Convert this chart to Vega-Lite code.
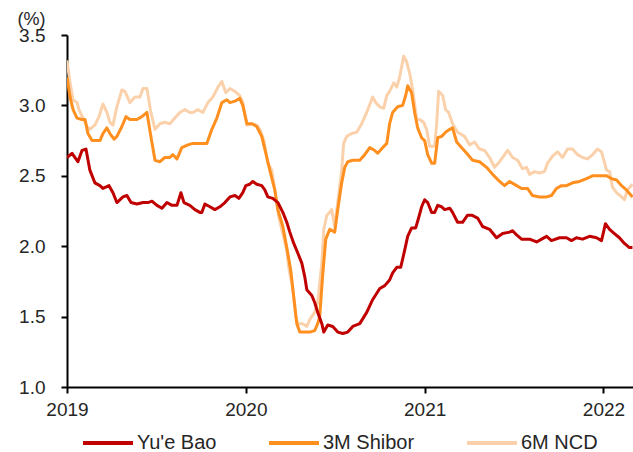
{
  "$schema": "https://vega.github.io/schema/vega-lite/v6.json",
  "width": 566,
  "height": 352,
  "autosize": {"type": "none"},
  "padding": {"left": 67, "top": 35, "right": 0, "bottom": 65},
  "background": "white",
  "config": {"view": {"stroke": null}, "font": "Liberation Sans"},
  "data": {"values": [
{"s":"6M NCD","t":2019.000,"v":3.32},{"s":"6M NCD","t":2019.017,"v":3.16},{"s":"6M NCD","t":2019.034,"v":3.04},{"s":"6M NCD","t":2019.056,"v":3.02},{"s":"6M NCD","t":2019.067,"v":2.97},{"s":"6M NCD","t":2019.089,"v":2.91},{"s":"6M NCD","t":2019.112,"v":2.85},{"s":"6M NCD","t":2019.128,"v":2.83},{"s":"6M NCD","t":2019.156,"v":2.86},{"s":"6M NCD","t":2019.179,"v":2.92},{"s":"6M NCD","t":2019.201,"v":3.01},{"s":"6M NCD","t":2019.223,"v":2.95},{"s":"6M NCD","t":2019.240,"v":2.88},{"s":"6M NCD","t":2019.257,"v":2.86},{"s":"6M NCD","t":2019.279,"v":2.99},{"s":"6M NCD","t":2019.307,"v":3.11},{"s":"6M NCD","t":2019.324,"v":3.10},{"s":"6M NCD","t":2019.352,"v":3.02},{"s":"6M NCD","t":2019.380,"v":3.06},{"s":"6M NCD","t":2019.408,"v":3.06},{"s":"6M NCD","t":2019.425,"v":3.12},{"s":"6M NCD","t":2019.447,"v":3.12},{"s":"6M NCD","t":2019.469,"v":2.95},{"s":"6M NCD","t":2019.492,"v":2.83},{"s":"6M NCD","t":2019.520,"v":2.87},{"s":"6M NCD","t":2019.547,"v":2.88},{"s":"6M NCD","t":2019.575,"v":2.87},{"s":"6M NCD","t":2019.603,"v":2.91},{"s":"6M NCD","t":2019.631,"v":2.95},{"s":"6M NCD","t":2019.659,"v":2.97},{"s":"6M NCD","t":2019.687,"v":2.95},{"s":"6M NCD","t":2019.704,"v":2.95},{"s":"6M NCD","t":2019.732,"v":2.97},{"s":"6M NCD","t":2019.760,"v":2.95},{"s":"6M NCD","t":2019.788,"v":3.02},{"s":"6M NCD","t":2019.816,"v":3.06},{"s":"6M NCD","t":2019.844,"v":3.13},{"s":"6M NCD","t":2019.866,"v":3.17},{"s":"6M NCD","t":2019.888,"v":3.09},{"s":"6M NCD","t":2019.911,"v":3.12},{"s":"6M NCD","t":2019.939,"v":3.10},{"s":"6M NCD","t":2019.966,"v":3.07},{"s":"6M NCD","t":2019.983,"v":3.02},{"s":"6M NCD","t":2020.006,"v":2.86},{"s":"6M NCD","t":2020.034,"v":2.87},{"s":"6M NCD","t":2020.061,"v":2.86},{"s":"6M NCD","t":2020.078,"v":2.83},{"s":"6M NCD","t":2020.101,"v":2.75},{"s":"6M NCD","t":2020.123,"v":2.59},{"s":"6M NCD","t":2020.145,"v":2.54},{"s":"6M NCD","t":2020.162,"v":2.40},{"s":"6M NCD","t":2020.184,"v":2.21},{"s":"6M NCD","t":2020.207,"v":2.09},{"s":"6M NCD","t":2020.229,"v":1.97},{"s":"6M NCD","t":2020.240,"v":1.85},{"s":"6M NCD","t":2020.263,"v":1.69},{"s":"6M NCD","t":2020.279,"v":1.50},{"s":"6M NCD","t":2020.291,"v":1.45},{"s":"6M NCD","t":2020.318,"v":1.45},{"s":"6M NCD","t":2020.341,"v":1.43},{"s":"6M NCD","t":2020.358,"v":1.48},{"s":"6M NCD","t":2020.385,"v":1.53},{"s":"6M NCD","t":2020.402,"v":1.60},{"s":"6M NCD","t":2020.425,"v":1.88},{"s":"6M NCD","t":2020.436,"v":2.12},{"s":"6M NCD","t":2020.453,"v":2.22},{"s":"6M NCD","t":2020.469,"v":2.24},{"s":"6M NCD","t":2020.480,"v":2.26},{"s":"6M NCD","t":2020.497,"v":2.14},{"s":"6M NCD","t":2020.514,"v":2.31},{"s":"6M NCD","t":2020.536,"v":2.54},{"s":"6M NCD","t":2020.547,"v":2.73},{"s":"6M NCD","t":2020.564,"v":2.78},{"s":"6M NCD","t":2020.592,"v":2.80},{"s":"6M NCD","t":2020.620,"v":2.81},{"s":"6M NCD","t":2020.648,"v":2.87},{"s":"6M NCD","t":2020.676,"v":2.95},{"s":"6M NCD","t":2020.709,"v":3.06},{"s":"6M NCD","t":2020.726,"v":3.02},{"s":"6M NCD","t":2020.749,"v":2.99},{"s":"6M NCD","t":2020.771,"v":2.98},{"s":"6M NCD","t":2020.788,"v":3.07},{"s":"6M NCD","t":2020.804,"v":3.10},{"s":"6M NCD","t":2020.827,"v":3.16},{"s":"6M NCD","t":2020.844,"v":3.13},{"s":"6M NCD","t":2020.860,"v":3.20},{"s":"6M NCD","t":2020.883,"v":3.35},{"s":"6M NCD","t":2020.899,"v":3.31},{"s":"6M NCD","t":2020.916,"v":3.23},{"s":"6M NCD","t":2020.933,"v":3.11},{"s":"6M NCD","t":2020.955,"v":2.90},{"s":"6M NCD","t":2020.972,"v":2.90},{"s":"6M NCD","t":2020.994,"v":2.88},{"s":"6M NCD","t":2021.011,"v":2.83},{"s":"6M NCD","t":2021.028,"v":2.71},{"s":"6M NCD","t":2021.056,"v":2.71},{"s":"6M NCD","t":2021.067,"v":2.87},{"s":"6M NCD","t":2021.078,"v":3.10},{"s":"6M NCD","t":2021.101,"v":3.07},{"s":"6M NCD","t":2021.117,"v":2.97},{"s":"6M NCD","t":2021.134,"v":2.95},{"s":"6M NCD","t":2021.156,"v":2.87},{"s":"6M NCD","t":2021.184,"v":2.81},{"s":"6M NCD","t":2021.196,"v":2.80},{"s":"6M NCD","t":2021.223,"v":2.78},{"s":"6M NCD","t":2021.251,"v":2.72},{"s":"6M NCD","t":2021.279,"v":2.74},{"s":"6M NCD","t":2021.307,"v":2.69},{"s":"6M NCD","t":2021.335,"v":2.68},{"s":"6M NCD","t":2021.363,"v":2.63},{"s":"6M NCD","t":2021.391,"v":2.56},{"s":"6M NCD","t":2021.419,"v":2.60},{"s":"6M NCD","t":2021.447,"v":2.65},{"s":"6M NCD","t":2021.464,"v":2.68},{"s":"6M NCD","t":2021.492,"v":2.63},{"s":"6M NCD","t":2021.520,"v":2.61},{"s":"6M NCD","t":2021.547,"v":2.55},{"s":"6M NCD","t":2021.570,"v":2.56},{"s":"6M NCD","t":2021.587,"v":2.51},{"s":"6M NCD","t":2021.615,"v":2.53},{"s":"6M NCD","t":2021.642,"v":2.52},{"s":"6M NCD","t":2021.670,"v":2.53},{"s":"6M NCD","t":2021.687,"v":2.59},{"s":"6M NCD","t":2021.715,"v":2.64},{"s":"6M NCD","t":2021.743,"v":2.67},{"s":"6M NCD","t":2021.771,"v":2.63},{"s":"6M NCD","t":2021.799,"v":2.69},{"s":"6M NCD","t":2021.827,"v":2.69},{"s":"6M NCD","t":2021.855,"v":2.65},{"s":"6M NCD","t":2021.883,"v":2.63},{"s":"6M NCD","t":2021.911,"v":2.62},{"s":"6M NCD","t":2021.939,"v":2.65},{"s":"6M NCD","t":2021.966,"v":2.69},{"s":"6M NCD","t":2021.989,"v":2.67},{"s":"6M NCD","t":2022.017,"v":2.54},{"s":"6M NCD","t":2022.034,"v":2.53},{"s":"6M NCD","t":2022.050,"v":2.42},{"s":"6M NCD","t":2022.073,"v":2.38},{"s":"6M NCD","t":2022.101,"v":2.35},{"s":"6M NCD","t":2022.117,"v":2.33},{"s":"6M NCD","t":2022.134,"v":2.40},{"s":"6M NCD","t":2022.162,"v":2.44},
{"s":"3M Shibor","t":2019.000,"v":3.20},{"s":"3M Shibor","t":2019.017,"v":3.06},{"s":"3M Shibor","t":2019.034,"v":2.97},{"s":"3M Shibor","t":2019.056,"v":2.91},{"s":"3M Shibor","t":2019.084,"v":2.90},{"s":"3M Shibor","t":2019.101,"v":2.90},{"s":"3M Shibor","t":2019.117,"v":2.80},{"s":"3M Shibor","t":2019.140,"v":2.75},{"s":"3M Shibor","t":2019.168,"v":2.75},{"s":"3M Shibor","t":2019.184,"v":2.75},{"s":"3M Shibor","t":2019.201,"v":2.80},{"s":"3M Shibor","t":2019.223,"v":2.84},{"s":"3M Shibor","t":2019.240,"v":2.80},{"s":"3M Shibor","t":2019.263,"v":2.76},{"s":"3M Shibor","t":2019.279,"v":2.78},{"s":"3M Shibor","t":2019.307,"v":2.85},{"s":"3M Shibor","t":2019.330,"v":2.92},{"s":"3M Shibor","t":2019.352,"v":2.90},{"s":"3M Shibor","t":2019.391,"v":2.90},{"s":"3M Shibor","t":2019.419,"v":2.92},{"s":"3M Shibor","t":2019.447,"v":2.95},{"s":"3M Shibor","t":2019.469,"v":2.78},{"s":"3M Shibor","t":2019.492,"v":2.61},{"s":"3M Shibor","t":2019.520,"v":2.60},{"s":"3M Shibor","t":2019.547,"v":2.63},{"s":"3M Shibor","t":2019.575,"v":2.63},{"s":"3M Shibor","t":2019.592,"v":2.65},{"s":"3M Shibor","t":2019.615,"v":2.62},{"s":"3M Shibor","t":2019.642,"v":2.70},{"s":"3M Shibor","t":2019.676,"v":2.72},{"s":"3M Shibor","t":2019.704,"v":2.73},{"s":"3M Shibor","t":2019.743,"v":2.73},{"s":"3M Shibor","t":2019.760,"v":2.73},{"s":"3M Shibor","t":2019.782,"v":2.73},{"s":"3M Shibor","t":2019.810,"v":2.83},{"s":"3M Shibor","t":2019.838,"v":2.91},{"s":"3M Shibor","t":2019.866,"v":3.02},{"s":"3M Shibor","t":2019.894,"v":3.04},{"s":"3M Shibor","t":2019.911,"v":3.02},{"s":"3M Shibor","t":2019.939,"v":3.03},{"s":"3M Shibor","t":2019.966,"v":3.05},{"s":"3M Shibor","t":2019.983,"v":3.00},{"s":"3M Shibor","t":2020.006,"v":2.87},{"s":"3M Shibor","t":2020.034,"v":2.87},{"s":"3M Shibor","t":2020.061,"v":2.85},{"s":"3M Shibor","t":2020.089,"v":2.78},{"s":"3M Shibor","t":2020.112,"v":2.66},{"s":"3M Shibor","t":2020.134,"v":2.54},{"s":"3M Shibor","t":2020.162,"v":2.40},{"s":"3M Shibor","t":2020.179,"v":2.26},{"s":"3M Shibor","t":2020.207,"v":2.14},{"s":"3M Shibor","t":2020.229,"v":1.99},{"s":"3M Shibor","t":2020.251,"v":1.83},{"s":"3M Shibor","t":2020.268,"v":1.64},{"s":"3M Shibor","t":2020.285,"v":1.45},{"s":"3M Shibor","t":2020.302,"v":1.39},{"s":"3M Shibor","t":2020.330,"v":1.39},{"s":"3M Shibor","t":2020.358,"v":1.39},{"s":"3M Shibor","t":2020.385,"v":1.40},{"s":"3M Shibor","t":2020.402,"v":1.45},{"s":"3M Shibor","t":2020.413,"v":1.50},{"s":"3M Shibor","t":2020.430,"v":1.80},{"s":"3M Shibor","t":2020.447,"v":2.05},{"s":"3M Shibor","t":2020.469,"v":2.12},{"s":"3M Shibor","t":2020.497,"v":2.10},{"s":"3M Shibor","t":2020.514,"v":2.26},{"s":"3M Shibor","t":2020.536,"v":2.45},{"s":"3M Shibor","t":2020.553,"v":2.56},{"s":"3M Shibor","t":2020.570,"v":2.60},{"s":"3M Shibor","t":2020.598,"v":2.61},{"s":"3M Shibor","t":2020.637,"v":2.61},{"s":"3M Shibor","t":2020.665,"v":2.65},{"s":"3M Shibor","t":2020.693,"v":2.70},{"s":"3M Shibor","t":2020.721,"v":2.68},{"s":"3M Shibor","t":2020.737,"v":2.66},{"s":"3M Shibor","t":2020.765,"v":2.70},{"s":"3M Shibor","t":2020.788,"v":2.73},{"s":"3M Shibor","t":2020.804,"v":2.87},{"s":"3M Shibor","t":2020.821,"v":2.95},{"s":"3M Shibor","t":2020.849,"v":2.99},{"s":"3M Shibor","t":2020.877,"v":3.00},{"s":"3M Shibor","t":2020.894,"v":3.07},{"s":"3M Shibor","t":2020.905,"v":3.14},{"s":"3M Shibor","t":2020.927,"v":3.09},{"s":"3M Shibor","t":2020.944,"v":2.95},{"s":"3M Shibor","t":2020.961,"v":2.84},{"s":"3M Shibor","t":2020.983,"v":2.77},{"s":"3M Shibor","t":2021.000,"v":2.75},{"s":"3M Shibor","t":2021.017,"v":2.65},{"s":"3M Shibor","t":2021.039,"v":2.59},{"s":"3M Shibor","t":2021.056,"v":2.59},{"s":"3M Shibor","t":2021.073,"v":2.77},{"s":"3M Shibor","t":2021.095,"v":2.78},{"s":"3M Shibor","t":2021.117,"v":2.81},{"s":"3M Shibor","t":2021.140,"v":2.83},{"s":"3M Shibor","t":2021.156,"v":2.84},{"s":"3M Shibor","t":2021.179,"v":2.74},{"s":"3M Shibor","t":2021.207,"v":2.70},{"s":"3M Shibor","t":2021.235,"v":2.66},{"s":"3M Shibor","t":2021.268,"v":2.61},{"s":"3M Shibor","t":2021.307,"v":2.60},{"s":"3M Shibor","t":2021.346,"v":2.56},{"s":"3M Shibor","t":2021.380,"v":2.51},{"s":"3M Shibor","t":2021.419,"v":2.46},{"s":"3M Shibor","t":2021.447,"v":2.43},{"s":"3M Shibor","t":2021.475,"v":2.46},{"s":"3M Shibor","t":2021.514,"v":2.43},{"s":"3M Shibor","t":2021.542,"v":2.41},{"s":"3M Shibor","t":2021.575,"v":2.41},{"s":"3M Shibor","t":2021.603,"v":2.36},{"s":"3M Shibor","t":2021.642,"v":2.35},{"s":"3M Shibor","t":2021.682,"v":2.35},{"s":"3M Shibor","t":2021.709,"v":2.36},{"s":"3M Shibor","t":2021.737,"v":2.41},{"s":"3M Shibor","t":2021.765,"v":2.43},{"s":"3M Shibor","t":2021.793,"v":2.43},{"s":"3M Shibor","t":2021.827,"v":2.45},{"s":"3M Shibor","t":2021.866,"v":2.46},{"s":"3M Shibor","t":2021.905,"v":2.48},{"s":"3M Shibor","t":2021.939,"v":2.50},{"s":"3M Shibor","t":2021.978,"v":2.50},{"s":"3M Shibor","t":2022.017,"v":2.50},{"s":"3M Shibor","t":2022.045,"v":2.48},{"s":"3M Shibor","t":2022.073,"v":2.47},{"s":"3M Shibor","t":2022.101,"v":2.43},{"s":"3M Shibor","t":2022.128,"v":2.40},{"s":"3M Shibor","t":2022.162,"v":2.35},
{"s":"Yu'e Bao","t":2019.000,"v":2.63},{"s":"Yu'e Bao","t":2019.028,"v":2.66},{"s":"Yu'e Bao","t":2019.061,"v":2.60},{"s":"Yu'e Bao","t":2019.084,"v":2.68},{"s":"Yu'e Bao","t":2019.106,"v":2.69},{"s":"Yu'e Bao","t":2019.128,"v":2.54},{"s":"Yu'e Bao","t":2019.156,"v":2.45},{"s":"Yu'e Bao","t":2019.184,"v":2.43},{"s":"Yu'e Bao","t":2019.201,"v":2.41},{"s":"Yu'e Bao","t":2019.235,"v":2.43},{"s":"Yu'e Bao","t":2019.257,"v":2.38},{"s":"Yu'e Bao","t":2019.279,"v":2.31},{"s":"Yu'e Bao","t":2019.313,"v":2.35},{"s":"Yu'e Bao","t":2019.335,"v":2.36},{"s":"Yu'e Bao","t":2019.358,"v":2.31},{"s":"Yu'e Bao","t":2019.391,"v":2.30},{"s":"Yu'e Bao","t":2019.425,"v":2.31},{"s":"Yu'e Bao","t":2019.453,"v":2.31},{"s":"Yu'e Bao","t":2019.475,"v":2.32},{"s":"Yu'e Bao","t":2019.503,"v":2.29},{"s":"Yu'e Bao","t":2019.531,"v":2.27},{"s":"Yu'e Bao","t":2019.559,"v":2.31},{"s":"Yu'e Bao","t":2019.587,"v":2.29},{"s":"Yu'e Bao","t":2019.615,"v":2.29},{"s":"Yu'e Bao","t":2019.637,"v":2.38},{"s":"Yu'e Bao","t":2019.654,"v":2.31},{"s":"Yu'e Bao","t":2019.687,"v":2.29},{"s":"Yu'e Bao","t":2019.715,"v":2.26},{"s":"Yu'e Bao","t":2019.743,"v":2.24},{"s":"Yu'e Bao","t":2019.754,"v":2.24},{"s":"Yu'e Bao","t":2019.771,"v":2.30},{"s":"Yu'e Bao","t":2019.799,"v":2.28},{"s":"Yu'e Bao","t":2019.827,"v":2.26},{"s":"Yu'e Bao","t":2019.855,"v":2.28},{"s":"Yu'e Bao","t":2019.883,"v":2.31},{"s":"Yu'e Bao","t":2019.911,"v":2.35},{"s":"Yu'e Bao","t":2019.939,"v":2.36},{"s":"Yu'e Bao","t":2019.961,"v":2.34},{"s":"Yu'e Bao","t":2019.983,"v":2.38},{"s":"Yu'e Bao","t":2020.000,"v":2.43},{"s":"Yu'e Bao","t":2020.022,"v":2.44},{"s":"Yu'e Bao","t":2020.039,"v":2.46},{"s":"Yu'e Bao","t":2020.061,"v":2.44},{"s":"Yu'e Bao","t":2020.089,"v":2.43},{"s":"Yu'e Bao","t":2020.106,"v":2.40},{"s":"Yu'e Bao","t":2020.123,"v":2.35},{"s":"Yu'e Bao","t":2020.151,"v":2.34},{"s":"Yu'e Bao","t":2020.179,"v":2.31},{"s":"Yu'e Bao","t":2020.207,"v":2.24},{"s":"Yu'e Bao","t":2020.229,"v":2.17},{"s":"Yu'e Bao","t":2020.246,"v":2.10},{"s":"Yu'e Bao","t":2020.268,"v":2.02},{"s":"Yu'e Bao","t":2020.291,"v":1.95},{"s":"Yu'e Bao","t":2020.313,"v":1.88},{"s":"Yu'e Bao","t":2020.330,"v":1.78},{"s":"Yu'e Bao","t":2020.341,"v":1.69},{"s":"Yu'e Bao","t":2020.369,"v":1.65},{"s":"Yu'e Bao","t":2020.385,"v":1.60},{"s":"Yu'e Bao","t":2020.402,"v":1.53},{"s":"Yu'e Bao","t":2020.425,"v":1.45},{"s":"Yu'e Bao","t":2020.436,"v":1.39},{"s":"Yu'e Bao","t":2020.458,"v":1.44},{"s":"Yu'e Bao","t":2020.486,"v":1.43},{"s":"Yu'e Bao","t":2020.514,"v":1.39},{"s":"Yu'e Bao","t":2020.542,"v":1.38},{"s":"Yu'e Bao","t":2020.570,"v":1.39},{"s":"Yu'e Bao","t":2020.598,"v":1.43},{"s":"Yu'e Bao","t":2020.637,"v":1.45},{"s":"Yu'e Bao","t":2020.676,"v":1.53},{"s":"Yu'e Bao","t":2020.709,"v":1.62},{"s":"Yu'e Bao","t":2020.749,"v":1.70},{"s":"Yu'e Bao","t":2020.777,"v":1.72},{"s":"Yu'e Bao","t":2020.804,"v":1.76},{"s":"Yu'e Bao","t":2020.821,"v":1.81},{"s":"Yu'e Bao","t":2020.844,"v":1.85},{"s":"Yu'e Bao","t":2020.866,"v":1.85},{"s":"Yu'e Bao","t":2020.888,"v":1.97},{"s":"Yu'e Bao","t":2020.905,"v":2.07},{"s":"Yu'e Bao","t":2020.927,"v":2.13},{"s":"Yu'e Bao","t":2020.950,"v":2.13},{"s":"Yu'e Bao","t":2020.966,"v":2.20},{"s":"Yu'e Bao","t":2020.983,"v":2.28},{"s":"Yu'e Bao","t":2021.000,"v":2.33},{"s":"Yu'e Bao","t":2021.017,"v":2.31},{"s":"Yu'e Bao","t":2021.039,"v":2.24},{"s":"Yu'e Bao","t":2021.056,"v":2.24},{"s":"Yu'e Bao","t":2021.073,"v":2.29},{"s":"Yu'e Bao","t":2021.095,"v":2.28},{"s":"Yu'e Bao","t":2021.112,"v":2.26},{"s":"Yu'e Bao","t":2021.140,"v":2.27},{"s":"Yu'e Bao","t":2021.156,"v":2.24},{"s":"Yu'e Bao","t":2021.184,"v":2.17},{"s":"Yu'e Bao","t":2021.212,"v":2.17},{"s":"Yu'e Bao","t":2021.240,"v":2.22},{"s":"Yu'e Bao","t":2021.263,"v":2.22},{"s":"Yu'e Bao","t":2021.296,"v":2.20},{"s":"Yu'e Bao","t":2021.324,"v":2.14},{"s":"Yu'e Bao","t":2021.363,"v":2.12},{"s":"Yu'e Bao","t":2021.402,"v":2.06},{"s":"Yu'e Bao","t":2021.436,"v":2.09},{"s":"Yu'e Bao","t":2021.475,"v":2.10},{"s":"Yu'e Bao","t":2021.492,"v":2.11},{"s":"Yu'e Bao","t":2021.514,"v":2.08},{"s":"Yu'e Bao","t":2021.542,"v":2.05},{"s":"Yu'e Bao","t":2021.587,"v":2.05},{"s":"Yu'e Bao","t":2021.626,"v":2.03},{"s":"Yu'e Bao","t":2021.654,"v":2.05},{"s":"Yu'e Bao","t":2021.682,"v":2.07},{"s":"Yu'e Bao","t":2021.709,"v":2.04},{"s":"Yu'e Bao","t":2021.754,"v":2.06},{"s":"Yu'e Bao","t":2021.793,"v":2.06},{"s":"Yu'e Bao","t":2021.821,"v":2.04},{"s":"Yu'e Bao","t":2021.849,"v":2.06},{"s":"Yu'e Bao","t":2021.883,"v":2.05},{"s":"Yu'e Bao","t":2021.922,"v":2.07},{"s":"Yu'e Bao","t":2021.961,"v":2.06},{"s":"Yu'e Bao","t":2021.989,"v":2.04},{"s":"Yu'e Bao","t":2022.011,"v":2.16},{"s":"Yu'e Bao","t":2022.034,"v":2.12},{"s":"Yu'e Bao","t":2022.061,"v":2.09},{"s":"Yu'e Bao","t":2022.089,"v":2.06},{"s":"Yu'e Bao","t":2022.117,"v":2.02},{"s":"Yu'e Bao","t":2022.145,"v":1.99},{"s":"Yu'e Bao","t":2022.162,"v":1.99}
  ]},
  "mark": {"type": "line", "strokeWidth": 3, "strokeJoin": "round", "clip": true},
  "encoding": {
    "x": {
      "field": "t", "type": "quantitative",
      "scale": {"domain": [2019, 2022.165], "nice": false, "zero": false},
      "axis": {
        "title": null, "values": [2019, 2020, 2021, 2022], "format": "d",
        "grid": false, "domainColor": "#000000", "domainWidth": 2,
        "tickColor": "#000000", "tickWidth": 2, "tickSize": 6,
        "labelFont": "Liberation Sans", "labelFontSize": 19, "labelColor": "#262626",
        "labelPadding": 7, "labelFlush": false, "labelOverlap": false
      }
    },
    "y": {
      "field": "v", "type": "quantitative",
      "scale": {"domain": [1, 3.5], "nice": false, "zero": false},
      "axis": {
        "title": "(%)", "titleAngle": 0, "titleX": -36, "titleY": -11,
        "titleAlign": "center", "titleBaseline": "alphabetic",
        "titleFont": "Liberation Sans", "titleFontSize": 18, "titleFontWeight": "normal", "titleColor": "#262626",
        "values": [1, 1.5, 2, 2.5, 3, 3.5], "format": ".1f",
        "grid": false, "domainColor": "#000000", "domainWidth": 2,
        "tickColor": "#000000", "tickWidth": 2, "tickSize": 6,
        "labelFont": "Liberation Sans", "labelFontSize": 19, "labelColor": "#262626",
        "labelPadding": 16, "labelFlush": false, "labelOverlap": false
      }
    },
    "color": {
      "field": "s", "type": "nominal",
      "scale": {"domain": ["Yu'e Bao", "3M Shibor", "6M NCD"], "range": ["#C00000", "#FF8F1F", "#FAD1AB"]},
      "legend": {
        "title": null, "orient": "none", "legendX": 14, "legendY": 381,
        "direction": "horizontal", "columns": 3, "gridAlign": "none", "columnPadding": 44,
        "symbolType": "stroke", "symbolSize": 2500, "symbolStrokeWidth": 4,
        "labelFont": "Liberation Sans", "labelFontSize": 20, "labelColor": "#262626", "labelOffset": 2, "labelLimit": 200
      }
    },
    "order": {"field": "t", "type": "quantitative"}
  }
}
